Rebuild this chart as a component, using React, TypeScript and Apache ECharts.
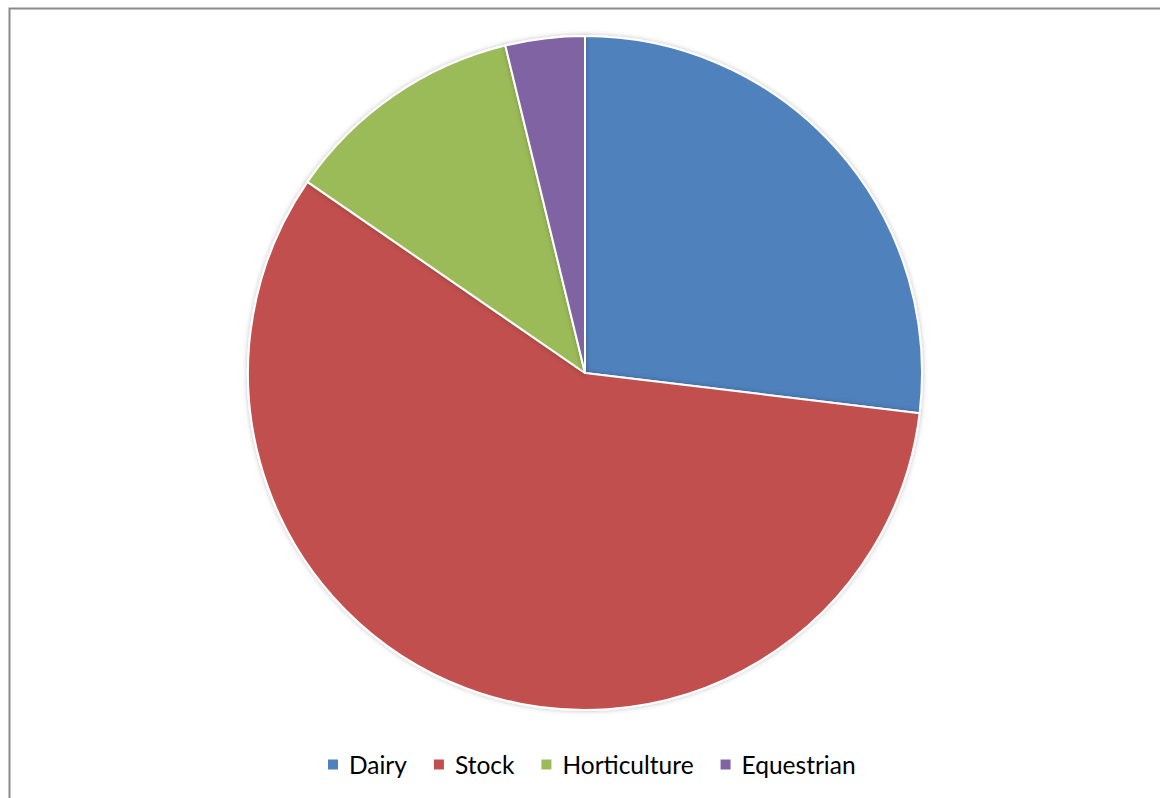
import React, { useEffect, useRef } from "react";
import * as echarts from "echarts";

const categories = ["Dairy", "Stock", "Horticulture", "Equestrian"];
const values = [26.9, 57.7, 11.6, 3.8];
const colors = ["#4F81BD", "#C0504D", "#9BBB59", "#8064A2"];

export default function App() {
  const ref = useRef<HTMLDivElement>(null);
  useEffect(() => {
    if (!ref.current) return;
    const chart = echarts.init(ref.current, null, { renderer: "svg" });
    chart.setOption({
      animation: false,
      backgroundColor: "#fff",
      color: colors,
      graphic: [
        {
          type: "rect",
          left: 7,
          top: 6,
          shape: { x: 0, y: 0, width: 1200, height: 900 },
          style: { fill: "none", stroke: "#8a8a8a", lineWidth: 2 },
          silent: true,
          z: 10,
        },
      ],
      legend: {
        data: categories,
        top: 747,
        left: 321,
        itemWidth: 12,
        itemHeight: 12,
        itemGap: 25,
        icon: "rect",
        textStyle: { fontFamily: "Lato", fontSize: 24.5, color: "#000", padding: [0, 0, 0, 5] },
      },
      series: [
        {
          type: "pie",
          center: [585, 373],
          radius: [0, 337],
          startAngle: 90,
          clockwise: true,
          label: { show: false },
          labelLine: { show: false },
          itemStyle: {
            borderColor: "#fff",
            borderWidth: 2,
            shadowBlur: 5,
            shadowColor: "rgba(0,0,0,0.25)",
          },
          data: categories.map((c, i) => ({ name: c, value: values[i] })),
        },
      ],
    });
    return () => chart.dispose();
  }, []);
  return <div ref={ref} style={{ width: 1160, height: 798, position: "absolute", left: 0, top: 0 }} />;
}
